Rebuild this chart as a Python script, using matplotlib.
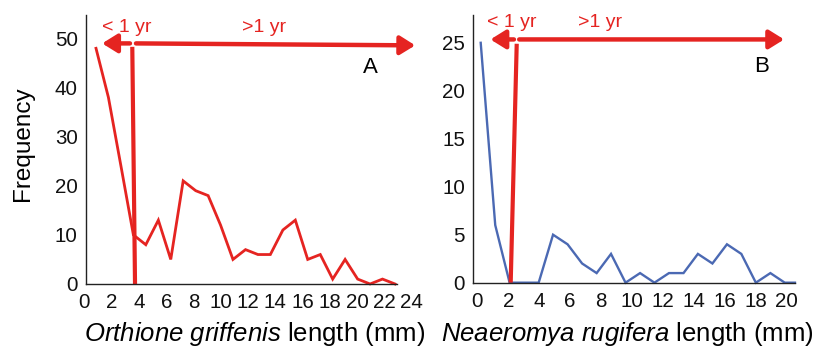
import matplotlib
matplotlib.use("Agg")
import matplotlib.pyplot as plt

plt.rcParams['font.family'] = ['Liberation Sans', 'DejaVu Sans']
plt.rcParams['mathtext.fontset'] = 'custom'
plt.rcParams['mathtext.it'] = 'Liberation Sans:italic'
plt.rcParams['mathtext.rm'] = 'Liberation Sans'

# Panel A: Orthione griffenis
len_a = [0.85, 1.76, 2.68, 3.59, 4.50, 5.42, 6.33, 7.24, 8.16, 9.07, 9.98, 10.89, 11.81,
         12.72, 13.63, 14.55, 15.46, 16.37, 17.29, 18.20, 19.11, 20.03, 20.94, 21.85, 22.77]
freq_a = [48, 38, 24, 10, 8, 13, 5, 21, 19, 18, 12, 5, 7, 6, 6, 11, 13, 5, 6, 1, 5, 1, 0, 1, 0]
xticks_a = [0, 2, 4, 6, 8, 10, 12, 14, 16, 18, 20, 22, 24]
yticks_a = [0, 10, 20, 30, 40, 50]

# Panel B: Neaeromya rugifera
len_b = [0.22, 1.16, 2.09, 3.03, 3.97, 4.90, 5.84, 6.78, 7.72, 8.65, 9.59, 10.53, 11.46,
         12.40, 13.34, 14.27, 15.21, 16.15, 17.08, 18.02, 18.96, 19.89, 20.55]
freq_b = [25, 6, 0, 0, 0, 5, 4, 2, 1, 3, 0, 1, 0, 1, 1, 3, 2, 4, 3, 0, 1, 0, 0]
xticks_b = [0, 2, 4, 6, 8, 10, 12, 14, 16, 18, 20]
yticks_b = [0, 5, 10, 15, 20, 25]

RED = '#E52421'
BLUE = '#4B69B3'
AX = '#222222'

fig = plt.figure(figsize=(8.28, 3.53), dpi=100)
axA = fig.add_axes([0.097, 0.1955, 0.4053, 0.765])
axB = fig.add_axes([0.5716, 0.1992, 0.3885, 0.7584])


def style(ax, xlim, ylim, xticks, yticks, xb, yb):
    ax.set_xlim(*xlim)
    ax.set_ylim(*ylim)
    ax.set_xticks(xticks)
    ax.set_yticks(yticks)
    for s in ['top', 'right']:
        ax.spines[s].set_visible(False)
    ax.spines['left'].set_position(('data', xb[0]))
    ax.spines['left'].set_bounds(*yb)
    ax.spines['bottom'].set_bounds(*xb)
    for s in ['left', 'bottom']:
        ax.spines[s].set_color(AX)
        ax.spines[s].set_linewidth(1.0)
    ax.tick_params(axis='both', length=0, labelsize=14.8, colors='#111111')
    ax.tick_params(axis='x', pad=6.5)
    ax.tick_params(axis='y', pad=6)
    ax.patch.set_alpha(0)


style(axA, (-0.3, 24.3), (0, 55), xticks_a, yticks_a, (0.12, 22.9), (0, 54.8))
style(axB, (-0.26, 20.55), (0, 27.9), xticks_b, yticks_b, (-0.26, 20.55), (0, 27.9))

axA.plot(len_a, freq_a, color=RED, lw=2.0, solid_joinstyle='miter', clip_on=False)
axB.plot(len_b, freq_b, color=BLUE, lw=1.7, solid_joinstyle='miter', clip_on=False)

arrow = dict(arrowstyle='-|>,head_length=0.45,head_width=0.28', lw=3.2, color=RED,
             mutation_scale=20, shrinkA=0, shrinkB=0)

# Panel A annotations
axA.plot([3.51, 3.71], [48.3, 0], color=RED, lw=3.0, clip_on=False, solid_capstyle='butt')
axA.annotate('', xy=(1.30, 49.0), xytext=(3.34, 49.0), arrowprops=arrow, annotation_clip=False)
axA.annotate('', xy=(24.25, 48.6), xytext=(3.78, 49.0), arrowprops=arrow, annotation_clip=False)
axA.text(3.1, 52.3, '< 1 yr', color=RED, fontsize=14, ha='center', va='center')
axA.text(13.2, 52.3, '>1 yr', color=RED, fontsize=14, ha='center', va='center')
axA.text(21.0, 44.1, 'A', color='black', fontsize=16, ha='center', va='center')

# Panel B annotations
axB.plot([2.55, 2.16], [24.9, 0], color=RED, lw=3.0, clip_on=False, solid_capstyle='butt')
axB.annotate('', xy=(0.85, 25.35), xytext=(2.37, 25.35), arrowprops=arrow, annotation_clip=False)
axB.annotate('', xy=(19.85, 25.35), xytext=(2.71, 25.35), arrowprops=arrow, annotation_clip=False)
axB.text(2.22, 27.1, '< 1 yr', color=RED, fontsize=14, ha='center', va='center')
axB.text(7.93, 27.1, '>1 yr', color=RED, fontsize=14, ha='center', va='center')
axB.text(18.38, 22.5, 'B', color='black', fontsize=16, ha='center', va='center')

fig.text(23 / 828, 1 - 144 / 353, 'Frequency', rotation=90, fontsize=17.5,
         ha='center', va='center')
fig.text(255 / 828, 1 - 334 / 353, r'$\mathit{Orthione\ griffenis}$ length (mm)',
         fontsize=18.5, ha='center', va='center')
fig.text(627.5 / 828, 1 - 334 / 353, r'$\mathit{Neaeromya\ rugifera}$ length (mm)',
         fontsize=18.5, ha='center', va='center')

fig.savefig('out.png', dpi=100)
